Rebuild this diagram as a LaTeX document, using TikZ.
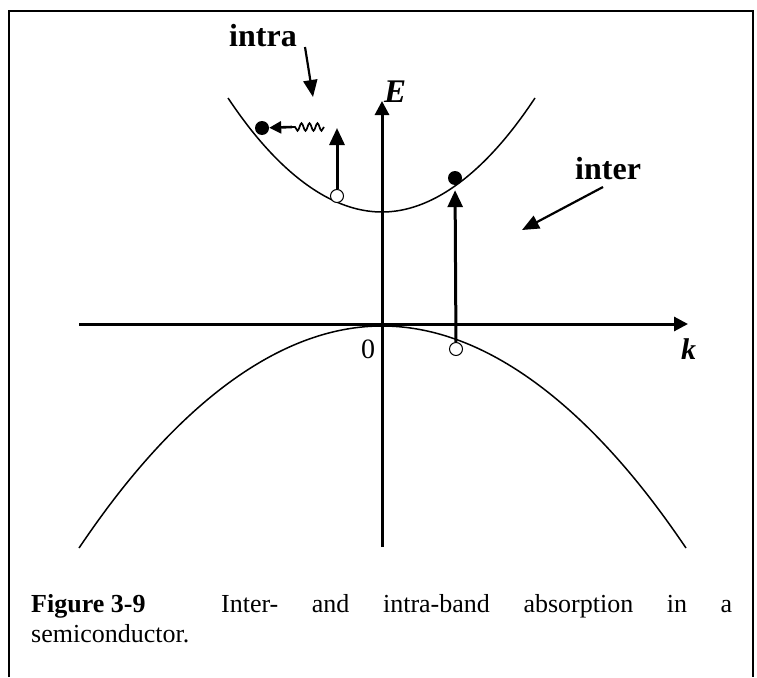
\documentclass[tikz,border=0pt]{standalone}
\usepackage{fontspec}
\setmainfont{Liberation Serif}
\usetikzlibrary{arrows.meta,decorations.pathmorphing}
\begin{document}
\begin{tikzpicture}[x=1pt,y=-1pt,
  axis/.style={line width=3pt,-{Triangle[length=14pt,width=14pt]}},
  band/.style={line width=1.5pt},
  bigarrow/.style={line width=3pt,-{Triangle[length=17pt,width=15pt]}},
  pointer/.style={line width=2.2pt,-{Triangle[length=17pt,width=14pt]}},
  electron/.style={circle,fill=black,inner sep=0pt,minimum size=14pt},
  hole/.style={circle,draw=black,line width=1pt,fill=white,inner sep=0pt,minimum size=13pt},
  lbl/.style={font=\fontsize{32}{38}\selectfont\bfseries,inner sep=0pt,anchor=base west}]
\useasboundingbox (0,0) rectangle (757,677);
% frame
\draw[line width=2pt] (9,677) -- (9,11) -- (753,11) -- (753,677);
% axes
\coordinate (kstart) at (79,324);
\coordinate (kend) at (688,324);
\coordinate (Estart) at (382,547);
\coordinate (Eend) at (382,101);
\draw[axis] (kstart) -- (kend);
\draw[axis] (Estart) -- (Eend);
% bands
\draw[band] (228,98) parabola bend (382,212) (535,98);
\draw[band] (79,548) parabola bend (382,326) (686,548);
% labels
\node[lbl] (intra) at (229,47) {intra};
\node[lbl] (inter) at (575,179) {inter};
\node[font=\fontsize{33}{38}\selectfont\bfseries\itshape,inner sep=0pt,anchor=base west] (E) at (384,102) {E};
\node[font=\fontsize{30}{36}\selectfont\bfseries\itshape,inner sep=0pt,anchor=base west] (k) at (681,359) {k};
\node[font=\fontsize{28}{32}\selectfont,inner sep=0pt,anchor=base west] (zero) at (361,358) {0};
% carriers
\node[electron] (e1) at (262,128) {};
\node[electron] (e2) at (455,178) {};
\node[hole] (h1) at (337,196) {};
\node[hole] (h2) at (456,349) {};
% intra-band transition
\coordinate (t1) at (337,128);
\draw[bigarrow] (h1) -- (t1);
\coordinate (w1) at (324,127);
\coordinate (w2) at (292,127);
\draw[line width=1.7pt,decorate,decoration={snake,amplitude=3.8pt,segment length=8pt}] (w1) -- (w2);
\draw[line width=2.6pt,-{Triangle[length=12pt,width=12pt]}] (w2) -- (e1);
% inter-band transition
\draw[bigarrow,shorten >=5pt] (h2) -- (e2);
% pointers
\coordinate (ia1) at (305,47);
\coordinate (ia2) at (313,97);
\draw[pointer] (ia1) -- (ia2);
\coordinate (ib1) at (603,187);
\coordinate (ib2) at (522,230);
\draw[pointer] (ib1) -- (ib2);
% caption
\node[anchor=north west,inner sep=0pt,text width=701pt,align=justify,
  font=\fontsize{26}{30}\selectfont] (cap) at (31,594)
  {\mbox{\textbf{Figure 3-9}}\hspace{42pt} Inter- and intra-band absorption in a\linebreak \mbox{semiconductor.}};
\end{tikzpicture}
\end{document}
